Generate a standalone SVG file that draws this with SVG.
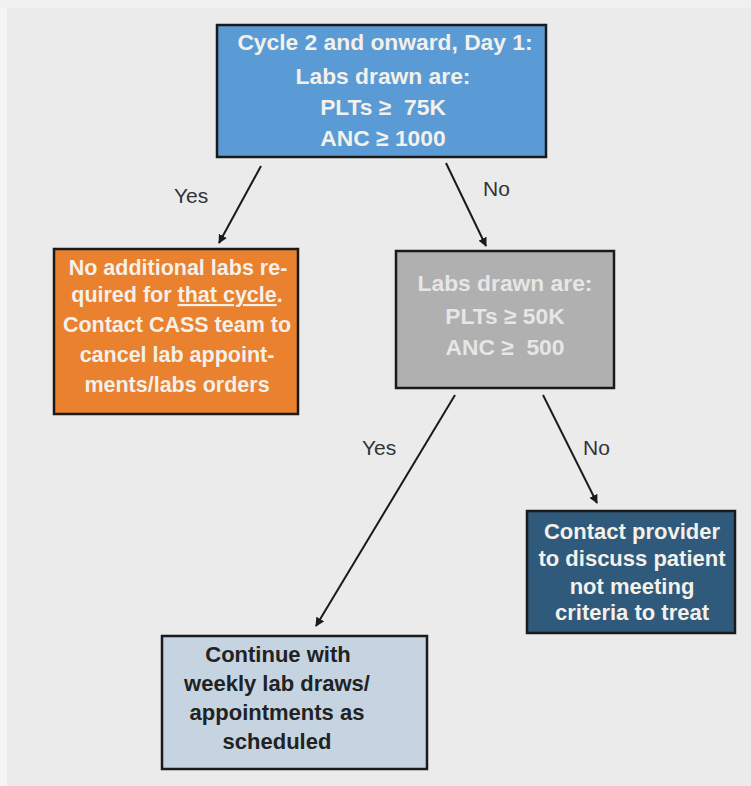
<svg xmlns="http://www.w3.org/2000/svg" width="751" height="786" viewBox="0 0 751 786">
<style>
.box{stroke:#1a1a1a;stroke-width:2.5}
.t{font-family:"Liberation Sans",Arial,sans-serif;font-weight:bold;text-anchor:middle}
.w{fill:#f4f0ea}
.lbl{font-family:"Liberation Sans",Arial,sans-serif;font-size:21px;fill:#333}
.c{stroke:#1a1a1a;stroke-width:2;fill:none;marker-end:url(#ah)}
</style>
<defs>
<marker id="ah" viewBox="0 0 10 10" refX="9" refY="5" markerWidth="4.5" markerHeight="4.5" orient="auto" markerUnits="strokeWidth">
<path d="M0,0 L10,5 L0,10 z" fill="#1a1a1a"/>
</marker>
</defs>
<rect x="0" y="0" width="751" height="786" fill="#ebebeb"/>
<rect x="0" y="0" width="7" height="786" fill="#f5f5f5"/>
<rect x="0" y="0" width="751" height="8" fill="#f1f1f1"/>
<g id="n1">
<rect class="box" x="217" y="25" width="329" height="132" fill="#5b9bd5"/>
<text class="t w" font-size="22.8"><tspan x="385" y="50">Cycle 2 and onward, Day 1:</tspan><tspan x="383" y="84">Labs drawn are:</tspan><tspan x="383" y="115">PLTs ≥&#160; 75K</tspan><tspan x="383" y="146">ANC ≥ 1000</tspan></text>
</g>
<g id="n2">
<rect class="box" x="54" y="249" width="244" height="165" fill="#e9812e"/>
<text class="t w" font-size="21.5"><tspan x="178" y="275">No additional labs re-</tspan><tspan x="177" y="302">quired for <tspan text-decoration="underline">that cycle</tspan>.</tspan><tspan x="177" y="332">Contact CASS team to</tspan><tspan x="177" y="362">cancel lab appoint-</tspan><tspan x="177" y="392">ments/labs orders</tspan></text>
</g>
<g id="n3">
<rect class="box" x="396" y="251" width="218" height="137" fill="#b0b0b0"/>
<text class="t" font-size="22.8" fill="#e6e6e6"><tspan x="505" y="291">Labs drawn are:</tspan><tspan x="505" y="324">PLTs ≥ 50K</tspan><tspan x="505" y="355">ANC ≥&#160; 500</tspan></text>
</g>
<g id="n4">
<rect class="box" x="162" y="636" width="265" height="133" fill="#c5d4e0"/>
<text class="t" font-size="22" fill="#222"><tspan x="278" y="662">Continue with</tspan><tspan x="277" y="691">weekly lab draws/</tspan><tspan x="277" y="720">appointments as</tspan><tspan x="277" y="749">scheduled</tspan></text>
</g>
<g id="n5">
<rect class="box" x="527" y="511" width="208" height="122" fill="#2f5a7b"/>
<text class="t w" font-size="22"><tspan x="632" y="539">Contact provider</tspan><tspan x="632" y="566">to discuss patient</tspan><tspan x="632" y="594">not meeting</tspan><tspan x="632" y="620">criteria to treat</tspan></text>
</g>
<g id="connectors">
<line class="c" x1="261" y1="166" x2="219" y2="243"/>
<line class="c" x1="446" y1="163" x2="486" y2="246"/>
<line class="c" x1="455" y1="395" x2="316" y2="626"/>
<line class="c" x1="543" y1="395" x2="597" y2="503"/>
<text class="lbl" x="174" y="203">Yes</text>
<text class="lbl" x="483" y="196">No</text>
<text class="lbl" x="362" y="455">Yes</text>
<text class="lbl" x="583" y="455">No</text>
</g>
</svg>
